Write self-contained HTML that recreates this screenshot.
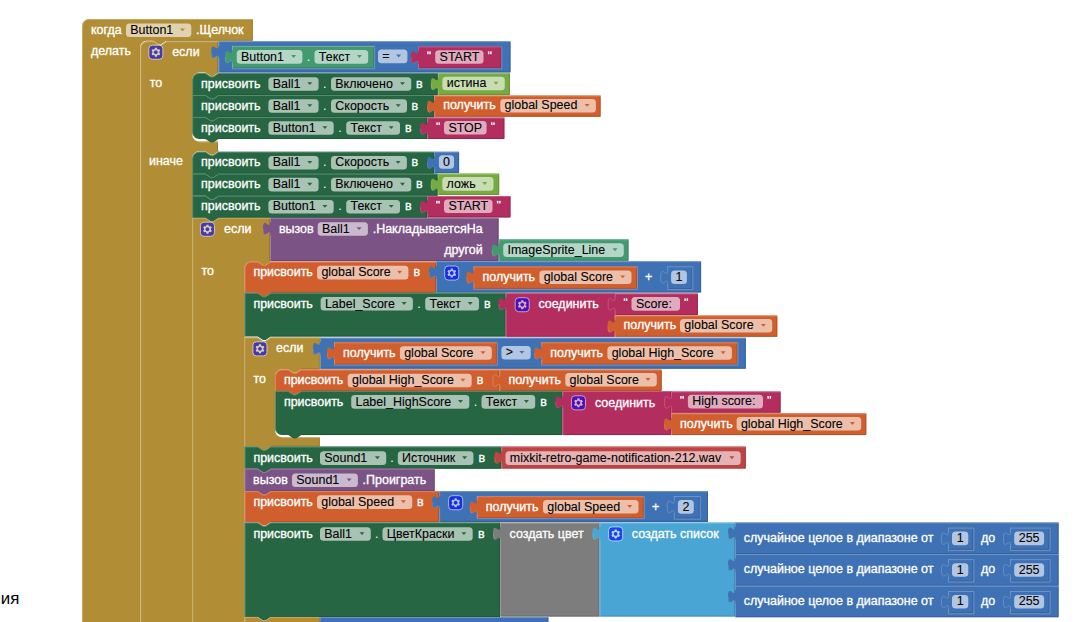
<!DOCTYPE html>
<html><head><meta charset="utf-8"><title>Blocks</title>
<style>
html,body{margin:0;padding:0;background:#fff;}
body{width:1075px;height:622px;overflow:hidden;font-family:"Liberation Sans",sans-serif;}
svg{display:block;position:absolute;left:0;top:0;}
path.h{stroke-opacity:0.8}
path.d{stroke-opacity:0.7}
text{font-family:"Liberation Sans",sans-serif;white-space:pre;}
</style></head><body>
<svg width="1075" height="622" viewBox="0 0 1075 622" font-family="'Liberation Sans', sans-serif">
<path d="M 82.1,26 a 7,7 0 0 1 7,-7 H 252.8 V 40.8 H 166.4 l -5.28,3.52 -2.64,0 -5.28,-3.52 H 147 a 7,7 0 0 0 -7,7 V 693 a 7,7 0 0 0 7,7 H 252.8 V 710 H 82.1 z" fill="#B18E35"/>
<path d="M 252.3,20 V 40.3 H 166.4" stroke="#8E722A" stroke-width="1" fill="none" class="d"/>
<path d="M 252.3,701 V 709.5 H 108.5" stroke="#8E722A" stroke-width="1" fill="none" class="d"/>
<path d="M 82.6,26 a 6.5,6.5 0 0 1 6.5,-6.5 H 252.8" stroke="#C8B072" stroke-width="1" fill="none" class="h"/>
<path d="M 82.6,26 V 710" stroke="#C8B072" stroke-width="1" fill="none" class="h"/>
<path d="M 147,700.5 H 252.8" stroke="#C8B072" stroke-width="1" fill="none" class="h"/>
<text x="91" y="33.9" fill="#fff" stroke="#fff" stroke-width="0.32" font-size="12.48" text-anchor="start">когда</text>
<rect x="126" y="23.4" width="65.3" height="13.6" rx="3.5" ry="3.5" fill="#fff" fill-opacity="0.6"/>
<text x="130.3" y="33.9" fill="#000" stroke="#000" stroke-width="0.08" font-size="12.48" text-anchor="start">Button1</text>
<path d="M 180,28.4 h 5 l -2.5,2.9 z" fill="#B18E35"/>
<text x="196" y="33.9" fill="#fff" stroke="#fff" stroke-width="0.32" font-size="12.48" text-anchor="start">.Щелчок</text>
<text x="91" y="55" fill="#fff" stroke="#fff" stroke-width="0.32" font-size="12.48" text-anchor="start">делать</text>
<path d="M 140.4,48.3 a 7,7 0 0 1 7,-7 H 153.6 l 5.28,3.52 2.64,0 5.28,-3.52 H 218 V 72.6 H 218.6 l -5.28,3.52 -2.64,0 -5.28,-3.52 H 199.2 a 7,7 0 0 0 -7,7 V 134.6 a 7,7 0 0 0 7,7 H 218 V 151.3 H 218.6 l -5.28,3.52 -2.64,0 -5.28,-3.52 H 199.2 a 7,7 0 0 0 -7,7 V 693 a 7,7 0 0 0 7,7 H 218 V 710 H 140.4 z" fill="#B18E35"/>
<path d="M 217.5,42.3 V 72.1 H 218.6" stroke="#8E722A" stroke-width="1" fill="none" class="d"/>
<path d="M 217.5,142.6 V 150.8 H 218.6" stroke="#8E722A" stroke-width="1" fill="none" class="d"/>
<path d="M 217.5,701 V 709.5 H 166.8" stroke="#8E722A" stroke-width="1" fill="none" class="d"/>
<path d="M 140.9,48.3 a 6.5,6.5 0 0 1 6.5,-6.5 H 153.6 l 5.28,3.52 2.64,0 5.28,-3.52 H 218" stroke="#C8B072" stroke-width="1" fill="none" class="h"/>
<path d="M 140.9,48.3 V 710" stroke="#C8B072" stroke-width="1" fill="none" class="h"/>
<path d="M 199.2,142.1 H 218" stroke="#C8B072" stroke-width="1" fill="none" class="h"/>
<path d="M 199.2,700.5 H 218" stroke="#C8B072" stroke-width="1" fill="none" class="h"/>
<g transform="translate(148.8,45.2) scale(0.88)" opacity="0.6"><rect x="0" y="0" width="16" height="16" rx="4" ry="4" fill="#00f" stroke="#fff" stroke-width="1"/><path d="m4.203,7.296 0,1.368 -0.92,0.677 -0.11,0.41 0.9,1.559 0.41,0.11 1.043,-0.457 1.187,0.683 0.127,1.134 0.3,0.3 1.8,0 0.3,-0.299 0.127,-1.138 1.185,-0.682 1.046,0.458 0.409,-0.11 0.9,-1.559 -0.11,-0.41 -0.92,-0.677 0,-1.366 0.92,-0.677 0.11,-0.41 -0.9,-1.559 -0.409,-0.109 -1.046,0.458 -1.185,-0.682 -0.127,-1.138 -0.3,-0.299 -1.8,0 -0.3,0.3 -0.126,1.135 -1.187,0.682 -1.043,-0.457 -0.41,0.11 -0.899,1.559 0.108,0.409z" fill="#fff"/><circle cx="8" cy="8" r="2.7" fill="#00f" stroke="#fff" stroke-width="1"/></g>
<text x="172.2" y="55.6" fill="#fff" stroke="#fff" stroke-width="0.32" font-size="12.48" text-anchor="start">если</text>
<text x="149.7" y="87" fill="#fff" stroke="#fff" stroke-width="0.32" font-size="12.48" text-anchor="start">то</text>
<text x="149" y="165" fill="#fff" stroke="#fff" stroke-width="0.32" font-size="12.48" text-anchor="start">иначе</text>
<path d="M 218.3,41.2 H 510.5 V 72.4 H 218.3 V 58.8 c 0,-8.8 -7.04,7.04 -7.04,-6.6 s 7.04,2.2 7.04,-6.6 z" fill="#3F71B5"/>
<path d="M 510,42.2 V 71.9 H 219.3" stroke="#325A91" stroke-width="1" fill="none" class="d"/>
<path d="M 218.3,41.7 H 510.5" stroke="#799CCB" stroke-width="1" fill="none" class="h"/>
<path d="M 218.8,58.8 V 72.4" stroke="#799CCB" stroke-width="1" fill="none" class="h"/>
<path d="M 218.8,41.2 V 45.6" stroke="#799CCB" stroke-width="1" fill="none" class="h"/>
<path d="M 218.8,58.8 c 0,-8.8 -7.04,7.04 -7.04,-6.6" stroke="#799CCB" stroke-width="1" fill="none" opacity="0.45"/>
<path d="M 232,45.9 H 374.2 V 68.2 H 232 V 63.5 c 0,-8.8 -7.04,7.04 -7.04,-6.6 s 7.04,2.2 7.04,-6.6 z" fill="#439970"/>
<path d="M 373.7,46.9 V 67.7 H 233" stroke="#367A5A" stroke-width="1" fill="none" class="d"/>
<path d="M 232,46.4 H 374.2" stroke="#7BB89B" stroke-width="1" fill="none" class="h"/>
<path d="M 232.5,63.5 V 68.2" stroke="#7BB89B" stroke-width="1" fill="none" class="h"/>
<path d="M 232.5,45.9 V 50.3" stroke="#7BB89B" stroke-width="1" fill="none" class="h"/>
<path d="M 232.5,63.5 c 0,-8.8 -7.04,7.04 -7.04,-6.6" stroke="#7BB89B" stroke-width="1" fill="none" opacity="0.45"/>
<path d="M 374.7,45.9 V 68.7 H 232" stroke="#799CCB" stroke-width="1" fill="none" opacity="0.8"/>
<rect x="236.7" y="50.1" width="65.7" height="13.6" rx="3.5" ry="3.5" fill="#fff" fill-opacity="0.6"/>
<text x="241" y="60.6" fill="#000" stroke="#000" stroke-width="0.08" font-size="12.48" text-anchor="start">Button1</text>
<path d="M 291.1,55.1 h 5 l -2.5,2.9 z" fill="#439970"/>
<text x="308.5" y="60.6" fill="#fff" stroke="#fff" stroke-width="0" font-size="12.48" text-anchor="middle">.</text>
<rect x="314.5" y="50.1" width="53.7" height="13.6" rx="3.5" ry="3.5" fill="#fff" fill-opacity="0.6"/>
<text x="318.8" y="60.6" fill="#000" stroke="#000" stroke-width="0.08" font-size="12.48" text-anchor="start">Текст</text>
<path d="M 356.9,55.1 h 5 l -2.5,2.9 z" fill="#439970"/>
<rect x="378" y="49.6" width="29.4" height="13.6" rx="3.5" ry="3.5" fill="#fff" fill-opacity="0.6"/>
<text x="382.3" y="60.1" fill="#000" stroke="#000" stroke-width="0.08" font-size="12.48" text-anchor="start">=</text>
<path d="M 396.1,54.6 h 5 l -2.5,2.9 z" fill="#3F71B5"/>
<path d="M 418,46.4 H 501.3 V 68.3 H 418 V 64 c 0,-8.8 -7.04,7.04 -7.04,-6.6 s 7.04,2.2 7.04,-6.6 z" fill="#B32D5E"/>
<path d="M 500.8,47.4 V 67.8 H 419" stroke="#8F244B" stroke-width="1" fill="none" class="d"/>
<path d="M 418,46.9 H 501.3" stroke="#CA6C8E" stroke-width="1" fill="none" class="h"/>
<path d="M 418.5,64 V 68.3" stroke="#CA6C8E" stroke-width="1" fill="none" class="h"/>
<path d="M 418.5,46.4 V 50.8" stroke="#CA6C8E" stroke-width="1" fill="none" class="h"/>
<path d="M 418.5,64 c 0,-8.8 -7.04,7.04 -7.04,-6.6" stroke="#CA6C8E" stroke-width="1" fill="none" opacity="0.45"/>
<path d="M 501.8,46.4 V 68.8 H 418" stroke="#799CCB" stroke-width="1" fill="none" opacity="0.8"/>
<rect x="427.1" y="51.35" width="1.5" height="2.8" rx="0.5" fill="#fff"/>
<rect x="429.3" y="51.35" width="1.5" height="2.8" rx="0.5" fill="#fff"/>
<rect x="487.9" y="51.35" width="1.5" height="2.8" rx="0.5" fill="#fff"/>
<rect x="490.1" y="51.35" width="1.5" height="2.8" rx="0.5" fill="#fff"/>
<rect x="435.2" y="50.15" width="48.3" height="13.6" rx="3.5" ry="3.5" fill="#fff" fill-opacity="0.6"/>
<text x="439.6" y="60.65" fill="#000" stroke="#000" stroke-width="0.08" font-size="12.48" text-anchor="start">START</text>
<path d="M 192.2,80 a 7,7 0 0 1 7,-7 H 205.4 l 5.28,3.52 2.64,0 5.28,-3.52 H 437.9 V 95.2 H 218.6 l -5.28,3.52 -2.64,0 -5.28,-3.52 H 192.2 z" fill="#266643"/>
<path d="M 437.4,74 V 94.7 H 218.6" stroke="#1E5236" stroke-width="1" fill="none" class="d"/>
<path d="M 192.7,80 a 6.5,6.5 0 0 1 6.5,-6.5 H 205.4 l 5.28,3.52 2.64,0 5.28,-3.52 H 437.9" stroke="#67947B" stroke-width="1" fill="none" class="h"/>
<path d="M 192.7,80 V 95.2" stroke="#67947B" stroke-width="1" fill="none" class="h"/>
<text x="201.1" y="87.7" fill="#fff" stroke="#fff" stroke-width="0.32" font-size="12.48" text-anchor="start">присвоить</text>
<rect x="268.4" y="77.2" width="50.2" height="13.6" rx="3.5" ry="3.5" fill="#fff" fill-opacity="0.6"/>
<text x="272.7" y="87.7" fill="#000" stroke="#000" stroke-width="0.08" font-size="12.48" text-anchor="start">Ball1</text>
<path d="M 307.3,82.2 h 5 l -2.5,2.9 z" fill="#266643"/>
<text x="324.8" y="87.7" fill="#fff" stroke="#fff" stroke-width="0" font-size="12.48" text-anchor="middle">.</text>
<rect x="331" y="77.2" width="80.27" height="13.6" rx="3.5" ry="3.5" fill="#fff" fill-opacity="0.6"/>
<text x="335.3" y="87.7" fill="#000" stroke="#000" stroke-width="0.08" font-size="12.48" text-anchor="start">Включено</text>
<path d="M 399.97,82.2 h 5 l -2.5,2.9 z" fill="#266643"/>
<text x="416" y="87.7" fill="#fff" stroke="#fff" stroke-width="0.32" font-size="12.48" text-anchor="start">в</text>
<path d="M 437.9,73 H 509.9 V 94.9 H 437.9 V 90.6 c 0,-8.8 -7.04,7.04 -7.04,-6.6 s 7.04,2.2 7.04,-6.6 z" fill="#77AB41"/>
<path d="M 509.4,74 V 94.4 H 438.9" stroke="#5F8934" stroke-width="1" fill="none" class="d"/>
<path d="M 437.9,73.5 H 509.9" stroke="#A0C47A" stroke-width="1" fill="none" class="h"/>
<path d="M 438.4,90.6 V 94.9" stroke="#A0C47A" stroke-width="1" fill="none" class="h"/>
<path d="M 438.4,73 V 77.4" stroke="#A0C47A" stroke-width="1" fill="none" class="h"/>
<path d="M 438.4,90.6 c 0,-8.8 -7.04,7.04 -7.04,-6.6" stroke="#A0C47A" stroke-width="1" fill="none" opacity="0.45"/>
<rect x="442.4" y="76.75" width="62.4" height="13.6" rx="3.5" ry="3.5" fill="#fff" fill-opacity="0.6"/>
<text x="446.7" y="87.25" fill="#000" stroke="#000" stroke-width="0.08" font-size="12.48" text-anchor="start">истина</text>
<path d="M 493.5,81.75 h 5 l -2.5,2.9 z" fill="#77AB41"/>
<path d="M 192.2,95 H 205.4 l 5.28,3.52 2.64,0 5.28,-3.52 H 434.2 V 117.2 H 218.6 l -5.28,3.52 -2.64,0 -5.28,-3.52 H 192.2 z" fill="#266643"/>
<path d="M 433.7,96 V 116.7 H 218.6" stroke="#1E5236" stroke-width="1" fill="none" class="d"/>
<path d="M 192.7,95.5 H 205.4 l 5.28,3.52 2.64,0 5.28,-3.52 H 434.2" stroke="#67947B" stroke-width="1" fill="none" class="h"/>
<path d="M 192.7,95 V 117.2" stroke="#67947B" stroke-width="1" fill="none" class="h"/>
<text x="201.1" y="109.7" fill="#fff" stroke="#fff" stroke-width="0.32" font-size="12.48" text-anchor="start">присвоить</text>
<rect x="268.4" y="99.2" width="50.2" height="13.6" rx="3.5" ry="3.5" fill="#fff" fill-opacity="0.6"/>
<text x="272.7" y="109.7" fill="#000" stroke="#000" stroke-width="0.08" font-size="12.48" text-anchor="start">Ball1</text>
<path d="M 307.3,104.2 h 5 l -2.5,2.9 z" fill="#266643"/>
<text x="324.8" y="109.7" fill="#fff" stroke="#fff" stroke-width="0" font-size="12.48" text-anchor="middle">.</text>
<rect x="331" y="99.2" width="76" height="13.6" rx="3.5" ry="3.5" fill="#fff" fill-opacity="0.6"/>
<text x="335.3" y="109.7" fill="#000" stroke="#000" stroke-width="0.08" font-size="12.48" text-anchor="start">Скорость</text>
<path d="M 395.7,104.2 h 5 l -2.5,2.9 z" fill="#266643"/>
<text x="411.6" y="109.7" fill="#fff" stroke="#fff" stroke-width="0.32" font-size="12.48" text-anchor="start">в</text>
<path d="M 434.2,95.5 H 600.6 V 116.8 H 434.2 V 113.1 c 0,-8.8 -7.04,7.04 -7.04,-6.6 s 7.04,2.2 7.04,-6.6 z" fill="#D05F2D"/>
<path d="M 600.1,96.5 V 116.3 H 435.2" stroke="#A64C24" stroke-width="1" fill="none" class="d"/>
<path d="M 434.2,96 H 600.6" stroke="#DE8F6C" stroke-width="1" fill="none" class="h"/>
<path d="M 434.7,113.1 V 116.8" stroke="#DE8F6C" stroke-width="1" fill="none" class="h"/>
<path d="M 434.7,95.5 V 99.9" stroke="#DE8F6C" stroke-width="1" fill="none" class="h"/>
<path d="M 434.7,113.1 c 0,-8.8 -7.04,7.04 -7.04,-6.6" stroke="#DE8F6C" stroke-width="1" fill="none" opacity="0.45"/>
<text x="443.2" y="109.45" fill="#fff" stroke="#fff" stroke-width="0.32" font-size="12.48" text-anchor="start">получить</text>
<rect x="500.3" y="98.95" width="95.6" height="13.6" rx="3.5" ry="3.5" fill="#fff" fill-opacity="0.6"/>
<text x="504.6" y="109.45" fill="#000" stroke="#000" stroke-width="0.08" font-size="12.48" text-anchor="start">global Speed</text>
<path d="M 584.6,103.95 h 5 l -2.5,2.9 z" fill="#D05F2D"/>
<path d="M 192.2,117 H 205.4 l 5.28,3.52 2.64,0 5.28,-3.52 H 427.2 V 139 H 218.6 l -5.28,3.52 -2.64,0 -5.28,-3.52 H 199.2 a 7,7 0 0 1 -7,-7 z" fill="#266643"/>
<path d="M 426.7,118 V 138.5 H 218.6" stroke="#1E5236" stroke-width="1" fill="none" class="d"/>
<path d="M 192.7,117.5 H 205.4 l 5.28,3.52 2.64,0 5.28,-3.52 H 427.2" stroke="#67947B" stroke-width="1" fill="none" class="h"/>
<path d="M 192.7,117 V 132" stroke="#67947B" stroke-width="1" fill="none" class="h"/>
<path d="M 192.7,132 a 7,7 0 0 0 2.1,4.9" stroke="#67947B" stroke-width="1" fill="none" class="h"/>
<text x="201.1" y="131.7" fill="#fff" stroke="#fff" stroke-width="0.32" font-size="12.48" text-anchor="start">присвоить</text>
<rect x="268.4" y="121.2" width="65.3" height="13.6" rx="3.5" ry="3.5" fill="#fff" fill-opacity="0.6"/>
<text x="272.7" y="131.7" fill="#000" stroke="#000" stroke-width="0.08" font-size="12.48" text-anchor="start">Button1</text>
<path d="M 322.4,126.2 h 5 l -2.5,2.9 z" fill="#266643"/>
<text x="339.95" y="131.7" fill="#fff" stroke="#fff" stroke-width="0" font-size="12.48" text-anchor="middle">.</text>
<rect x="346.2" y="121.2" width="53.8" height="13.6" rx="3.5" ry="3.5" fill="#fff" fill-opacity="0.6"/>
<text x="350.5" y="131.7" fill="#000" stroke="#000" stroke-width="0.08" font-size="12.48" text-anchor="start">Текст</text>
<path d="M 388.7,126.2 h 5 l -2.5,2.9 z" fill="#266643"/>
<text x="405" y="131.7" fill="#fff" stroke="#fff" stroke-width="0.32" font-size="12.48" text-anchor="start">в</text>
<path d="M 427.2,117.5 H 504.4 V 138.9 H 427.2 V 135.1 c 0,-8.8 -7.04,7.04 -7.04,-6.6 s 7.04,2.2 7.04,-6.6 z" fill="#B32D5E"/>
<path d="M 503.9,118.5 V 138.4 H 428.2" stroke="#8F244B" stroke-width="1" fill="none" class="d"/>
<path d="M 427.2,118 H 504.4" stroke="#CA6C8E" stroke-width="1" fill="none" class="h"/>
<path d="M 427.7,135.1 V 138.9" stroke="#CA6C8E" stroke-width="1" fill="none" class="h"/>
<path d="M 427.7,117.5 V 121.9" stroke="#CA6C8E" stroke-width="1" fill="none" class="h"/>
<path d="M 427.7,135.1 c 0,-8.8 -7.04,7.04 -7.04,-6.6" stroke="#CA6C8E" stroke-width="1" fill="none" opacity="0.45"/>
<rect x="436.3" y="122.2" width="1.5" height="2.8" rx="0.5" fill="#fff"/>
<rect x="438.5" y="122.2" width="1.5" height="2.8" rx="0.5" fill="#fff"/>
<rect x="491" y="122.2" width="1.5" height="2.8" rx="0.5" fill="#fff"/>
<rect x="493.2" y="122.2" width="1.5" height="2.8" rx="0.5" fill="#fff"/>
<rect x="444" y="121" width="42.6" height="13.6" rx="3.5" ry="3.5" fill="#fff" fill-opacity="0.6"/>
<text x="448.4" y="131.5" fill="#000" stroke="#000" stroke-width="0.08" font-size="12.48" text-anchor="start">STOP</text>
<path d="M 192.2,158.7 a 7,7 0 0 1 7,-7 H 205.4 l 5.28,3.52 2.64,0 5.28,-3.52 H 434.1 V 173.7 H 218.6 l -5.28,3.52 -2.64,0 -5.28,-3.52 H 192.2 z" fill="#266643"/>
<path d="M 433.6,152.7 V 173.2 H 218.6" stroke="#1E5236" stroke-width="1" fill="none" class="d"/>
<path d="M 192.7,158.7 a 6.5,6.5 0 0 1 6.5,-6.5 H 205.4 l 5.28,3.52 2.64,0 5.28,-3.52 H 434.1" stroke="#67947B" stroke-width="1" fill="none" class="h"/>
<path d="M 192.7,158.7 V 173.7" stroke="#67947B" stroke-width="1" fill="none" class="h"/>
<text x="201.1" y="166.4" fill="#fff" stroke="#fff" stroke-width="0.32" font-size="12.48" text-anchor="start">присвоить</text>
<rect x="268.4" y="155.9" width="50.2" height="13.6" rx="3.5" ry="3.5" fill="#fff" fill-opacity="0.6"/>
<text x="272.7" y="166.4" fill="#000" stroke="#000" stroke-width="0.08" font-size="12.48" text-anchor="start">Ball1</text>
<path d="M 307.3,160.9 h 5 l -2.5,2.9 z" fill="#266643"/>
<text x="324.8" y="166.4" fill="#fff" stroke="#fff" stroke-width="0" font-size="12.48" text-anchor="middle">.</text>
<rect x="331" y="155.9" width="75.9" height="13.6" rx="3.5" ry="3.5" fill="#fff" fill-opacity="0.6"/>
<text x="335.3" y="166.4" fill="#000" stroke="#000" stroke-width="0.08" font-size="12.48" text-anchor="start">Скорость</text>
<path d="M 395.6,160.9 h 5 l -2.5,2.9 z" fill="#266643"/>
<text x="411.6" y="166.4" fill="#fff" stroke="#fff" stroke-width="0.32" font-size="12.48" text-anchor="start">в</text>
<path d="M 434.1,151.7 H 459.1 V 173.1 H 434.1 V 169.3 c 0,-8.8 -7.04,7.04 -7.04,-6.6 s 7.04,2.2 7.04,-6.6 z" fill="#3F71B5"/>
<path d="M 458.6,152.7 V 172.6 H 435.1" stroke="#325A91" stroke-width="1" fill="none" class="d"/>
<path d="M 434.1,152.2 H 459.1" stroke="#799CCB" stroke-width="1" fill="none" class="h"/>
<path d="M 434.6,169.3 V 173.1" stroke="#799CCB" stroke-width="1" fill="none" class="h"/>
<path d="M 434.6,151.7 V 156.1" stroke="#799CCB" stroke-width="1" fill="none" class="h"/>
<path d="M 434.6,169.3 c 0,-8.8 -7.04,7.04 -7.04,-6.6" stroke="#799CCB" stroke-width="1" fill="none" opacity="0.45"/>
<rect x="438.9" y="155.2" width="15.1" height="13.6" rx="3.5" ry="3.5" fill="#fff" fill-opacity="0.6"/>
<text x="442.98" y="165.7" fill="#000" stroke="#000" stroke-width="0.08" font-size="12.48" text-anchor="start">0</text>
<path d="M 192.2,173.6 H 205.4 l 5.28,3.52 2.64,0 5.28,-3.52 H 437.8 V 195.8 H 218.6 l -5.28,3.52 -2.64,0 -5.28,-3.52 H 192.2 z" fill="#266643"/>
<path d="M 437.3,174.6 V 195.3 H 218.6" stroke="#1E5236" stroke-width="1" fill="none" class="d"/>
<path d="M 192.7,174.1 H 205.4 l 5.28,3.52 2.64,0 5.28,-3.52 H 437.8" stroke="#67947B" stroke-width="1" fill="none" class="h"/>
<path d="M 192.7,173.6 V 195.8" stroke="#67947B" stroke-width="1" fill="none" class="h"/>
<text x="201.1" y="188.3" fill="#fff" stroke="#fff" stroke-width="0.32" font-size="12.48" text-anchor="start">присвоить</text>
<rect x="268.4" y="177.8" width="50.2" height="13.6" rx="3.5" ry="3.5" fill="#fff" fill-opacity="0.6"/>
<text x="272.7" y="188.3" fill="#000" stroke="#000" stroke-width="0.08" font-size="12.48" text-anchor="start">Ball1</text>
<path d="M 307.3,182.8 h 5 l -2.5,2.9 z" fill="#266643"/>
<text x="324.8" y="188.3" fill="#fff" stroke="#fff" stroke-width="0" font-size="12.48" text-anchor="middle">.</text>
<rect x="331" y="177.8" width="80.27" height="13.6" rx="3.5" ry="3.5" fill="#fff" fill-opacity="0.6"/>
<text x="335.3" y="188.3" fill="#000" stroke="#000" stroke-width="0.08" font-size="12.48" text-anchor="start">Включено</text>
<path d="M 399.97,182.8 h 5 l -2.5,2.9 z" fill="#266643"/>
<text x="416" y="188.3" fill="#fff" stroke="#fff" stroke-width="0.32" font-size="12.48" text-anchor="start">в</text>
<path d="M 437.8,173.6 H 499.2 V 195 H 437.8 V 191.2 c 0,-8.8 -7.04,7.04 -7.04,-6.6 s 7.04,2.2 7.04,-6.6 z" fill="#77AB41"/>
<path d="M 498.7,174.6 V 194.5 H 438.8" stroke="#5F8934" stroke-width="1" fill="none" class="d"/>
<path d="M 437.8,174.1 H 499.2" stroke="#A0C47A" stroke-width="1" fill="none" class="h"/>
<path d="M 438.3,191.2 V 195" stroke="#A0C47A" stroke-width="1" fill="none" class="h"/>
<path d="M 438.3,173.6 V 178" stroke="#A0C47A" stroke-width="1" fill="none" class="h"/>
<path d="M 438.3,191.2 c 0,-8.8 -7.04,7.04 -7.04,-6.6" stroke="#A0C47A" stroke-width="1" fill="none" opacity="0.45"/>
<rect x="442.3" y="177.1" width="51.2" height="13.6" rx="3.5" ry="3.5" fill="#fff" fill-opacity="0.6"/>
<text x="446.6" y="187.6" fill="#000" stroke="#000" stroke-width="0.08" font-size="12.48" text-anchor="start">ложь</text>
<path d="M 482.2,182.1 h 5 l -2.5,2.9 z" fill="#77AB41"/>
<path d="M 192.2,195.7 H 205.4 l 5.28,3.52 2.64,0 5.28,-3.52 H 427 V 217.9 H 218.6 l -5.28,3.52 -2.64,0 -5.28,-3.52 H 192.2 z" fill="#266643"/>
<path d="M 426.5,196.7 V 217.4 H 218.6" stroke="#1E5236" stroke-width="1" fill="none" class="d"/>
<path d="M 192.7,196.2 H 205.4 l 5.28,3.52 2.64,0 5.28,-3.52 H 427" stroke="#67947B" stroke-width="1" fill="none" class="h"/>
<path d="M 192.7,195.7 V 217.9" stroke="#67947B" stroke-width="1" fill="none" class="h"/>
<text x="201.1" y="210.4" fill="#fff" stroke="#fff" stroke-width="0.32" font-size="12.48" text-anchor="start">присвоить</text>
<rect x="268.4" y="199.9" width="65.3" height="13.6" rx="3.5" ry="3.5" fill="#fff" fill-opacity="0.6"/>
<text x="272.7" y="210.4" fill="#000" stroke="#000" stroke-width="0.08" font-size="12.48" text-anchor="start">Button1</text>
<path d="M 322.4,204.9 h 5 l -2.5,2.9 z" fill="#266643"/>
<text x="339.95" y="210.4" fill="#fff" stroke="#fff" stroke-width="0" font-size="12.48" text-anchor="middle">.</text>
<rect x="346.2" y="199.9" width="53.8" height="13.6" rx="3.5" ry="3.5" fill="#fff" fill-opacity="0.6"/>
<text x="350.5" y="210.4" fill="#000" stroke="#000" stroke-width="0.08" font-size="12.48" text-anchor="start">Текст</text>
<path d="M 388.7,204.9 h 5 l -2.5,2.9 z" fill="#266643"/>
<text x="405" y="210.4" fill="#fff" stroke="#fff" stroke-width="0.32" font-size="12.48" text-anchor="start">в</text>
<path d="M 427,195.9 H 510.5 V 217.4 H 427 V 213.5 c 0,-8.8 -7.04,7.04 -7.04,-6.6 s 7.04,2.2 7.04,-6.6 z" fill="#B32D5E"/>
<path d="M 510,196.9 V 216.9 H 428" stroke="#8F244B" stroke-width="1" fill="none" class="d"/>
<path d="M 427,196.4 H 510.5" stroke="#CA6C8E" stroke-width="1" fill="none" class="h"/>
<path d="M 427.5,213.5 V 217.4" stroke="#CA6C8E" stroke-width="1" fill="none" class="h"/>
<path d="M 427.5,195.9 V 200.3" stroke="#CA6C8E" stroke-width="1" fill="none" class="h"/>
<path d="M 427.5,213.5 c 0,-8.8 -7.04,7.04 -7.04,-6.6" stroke="#CA6C8E" stroke-width="1" fill="none" opacity="0.45"/>
<rect x="436.1" y="200.65" width="1.5" height="2.8" rx="0.5" fill="#fff"/>
<rect x="438.3" y="200.65" width="1.5" height="2.8" rx="0.5" fill="#fff"/>
<rect x="496.9" y="200.65" width="1.5" height="2.8" rx="0.5" fill="#fff"/>
<rect x="499.1" y="200.65" width="1.5" height="2.8" rx="0.5" fill="#fff"/>
<rect x="444" y="199.45" width="48.5" height="13.6" rx="3.5" ry="3.5" fill="#fff" fill-opacity="0.6"/>
<text x="448.4" y="209.95" fill="#000" stroke="#000" stroke-width="0.08" font-size="12.48" text-anchor="start">START</text>
<path d="M 192.3,217.8 H 205.5 l 5.28,3.52 2.64,0 5.28,-3.52 H 270 V 261.4 H 270.9 l -5.28,3.52 -2.64,0 -5.28,-3.52 H 251.5 a 7,7 0 0 0 -7,7 V 693 a 7,7 0 0 0 7,7 H 270 V 710 H 192.3 z" fill="#B18E35"/>
<path d="M 269.5,218.8 V 260.9 H 270.9" stroke="#8E722A" stroke-width="1" fill="none" class="d"/>
<path d="M 269.5,701 V 709.5 H 218.7" stroke="#8E722A" stroke-width="1" fill="none" class="d"/>
<path d="M 192.8,218.3 H 205.5 l 5.28,3.52 2.64,0 5.28,-3.52 H 270" stroke="#C8B072" stroke-width="1" fill="none" class="h"/>
<path d="M 192.8,217.8 V 710" stroke="#C8B072" stroke-width="1" fill="none" class="h"/>
<path d="M 251.5,700.5 H 270" stroke="#C8B072" stroke-width="1" fill="none" class="h"/>
<g transform="translate(200.4,222.2) scale(0.88)" opacity="0.6"><rect x="0" y="0" width="16" height="16" rx="4" ry="4" fill="#00f" stroke="#fff" stroke-width="1"/><path d="m4.203,7.296 0,1.368 -0.92,0.677 -0.11,0.41 0.9,1.559 0.41,0.11 1.043,-0.457 1.187,0.683 0.127,1.134 0.3,0.3 1.8,0 0.3,-0.299 0.127,-1.138 1.185,-0.682 1.046,0.458 0.409,-0.11 0.9,-1.559 -0.11,-0.41 -0.92,-0.677 0,-1.366 0.92,-0.677 0.11,-0.41 -0.9,-1.559 -0.409,-0.109 -1.046,0.458 -1.185,-0.682 -0.127,-1.138 -0.3,-0.299 -1.8,0 -0.3,0.3 -0.126,1.135 -1.187,0.682 -1.043,-0.457 -0.41,0.11 -0.899,1.559 0.108,0.409z" fill="#fff"/><circle cx="8" cy="8" r="2.7" fill="#00f" stroke="#fff" stroke-width="1"/></g>
<text x="224.1" y="232.6" fill="#fff" stroke="#fff" stroke-width="0.32" font-size="12.48" text-anchor="start">если</text>
<text x="201.5" y="275" fill="#fff" stroke="#fff" stroke-width="0.32" font-size="12.48" text-anchor="start">то</text>
<path d="M 270,217.8 H 498.6 V 261 H 270 V 235.4 c 0,-8.8 -7.04,7.04 -7.04,-6.6 s 7.04,2.2 7.04,-6.6 z" fill="#7C5385"/>
<path d="M 498.1,218.8 V 260.5 H 271" stroke="#63426A" stroke-width="1" fill="none" class="d"/>
<path d="M 270,218.3 H 498.6" stroke="#A387AA" stroke-width="1" fill="none" class="h"/>
<path d="M 270.5,235.4 V 261" stroke="#A387AA" stroke-width="1" fill="none" class="h"/>
<path d="M 270.5,217.8 V 222.2" stroke="#A387AA" stroke-width="1" fill="none" class="h"/>
<path d="M 270.5,235.4 c 0,-8.8 -7.04,7.04 -7.04,-6.6" stroke="#A387AA" stroke-width="1" fill="none" opacity="0.45"/>
<text x="278.9" y="232.7" fill="#fff" stroke="#fff" stroke-width="0.32" font-size="12.48" text-anchor="start">вызов</text>
<rect x="317.7" y="222.2" width="50.2" height="13.6" rx="3.5" ry="3.5" fill="#fff" fill-opacity="0.6"/>
<text x="322" y="232.7" fill="#000" stroke="#000" stroke-width="0.08" font-size="12.48" text-anchor="start">Ball1</text>
<path d="M 356.6,227.2 h 5 l -2.5,2.9 z" fill="#7C5385"/>
<text x="372.7" y="232.7" fill="#fff" stroke="#fff" stroke-width="0.32" font-size="12.48" text-anchor="start">.НакладываетсяНа</text>
<text x="482.7" y="254.3" fill="#fff" stroke="#fff" stroke-width="0.32" font-size="12.48" text-anchor="end">другой</text>
<path d="M 498.8,239.3 H 628.5 V 260.8 H 498.8 V 256.9 c 0,-8.8 -7.04,7.04 -7.04,-6.6 s 7.04,2.2 7.04,-6.6 z" fill="#439970"/>
<path d="M 628,240.3 V 260.3 H 499.8" stroke="#367A5A" stroke-width="1" fill="none" class="d"/>
<path d="M 498.8,239.8 H 628.5" stroke="#7BB89B" stroke-width="1" fill="none" class="h"/>
<path d="M 499.3,256.9 V 260.8" stroke="#7BB89B" stroke-width="1" fill="none" class="h"/>
<path d="M 499.3,239.3 V 243.7" stroke="#7BB89B" stroke-width="1" fill="none" class="h"/>
<path d="M 499.3,256.9 c 0,-8.8 -7.04,7.04 -7.04,-6.6" stroke="#7BB89B" stroke-width="1" fill="none" opacity="0.45"/>
<rect x="503.2" y="243.3" width="120.6" height="13.6" rx="3.5" ry="3.5" fill="#fff" fill-opacity="0.6"/>
<text x="507.5" y="253.8" fill="#000" stroke="#000" stroke-width="0.08" font-size="12.48" text-anchor="start">ImageSprite_Line</text>
<path d="M 612.5,248.3 h 5 l -2.5,2.9 z" fill="#439970"/>
<path d="M 244.5,268.6 a 7,7 0 0 1 7,-7 H 257.7 l 5.28,3.52 2.64,0 5.28,-3.52 H 436 V 292.8 H 270.9 l -5.28,3.52 -2.64,0 -5.28,-3.52 H 244.5 z" fill="#D05F2D"/>
<path d="M 435.5,262.6 V 292.3 H 270.9" stroke="#A64C24" stroke-width="1" fill="none" class="d"/>
<path d="M 245,268.6 a 6.5,6.5 0 0 1 6.5,-6.5 H 257.7 l 5.28,3.52 2.64,0 5.28,-3.52 H 436" stroke="#DE8F6C" stroke-width="1" fill="none" class="h"/>
<path d="M 245,268.6 V 292.8" stroke="#DE8F6C" stroke-width="1" fill="none" class="h"/>
<text x="253.4" y="276.3" fill="#fff" stroke="#fff" stroke-width="0.32" font-size="12.48" text-anchor="start">присвоить</text>
<rect x="317.1" y="265.8" width="91.3" height="13.6" rx="3.5" ry="3.5" fill="#fff" fill-opacity="0.6"/>
<text x="321.4" y="276.3" fill="#000" stroke="#000" stroke-width="0.08" font-size="12.48" text-anchor="start">global Score</text>
<path d="M 397.1,270.8 h 5 l -2.5,2.9 z" fill="#D05F2D"/>
<text x="413.5" y="276.3" fill="#fff" stroke="#fff" stroke-width="0.32" font-size="12.48" text-anchor="start">в</text>
<path d="M 436,261.2 H 701.1 V 292.5 H 436 V 278.8 c 0,-8.8 -7.04,7.04 -7.04,-6.6 s 7.04,2.2 7.04,-6.6 z" fill="#3F71B5"/>
<path d="M 700.6,262.2 V 292 H 437" stroke="#325A91" stroke-width="1" fill="none" class="d"/>
<path d="M 436,261.7 H 701.1" stroke="#799CCB" stroke-width="1" fill="none" class="h"/>
<path d="M 436.5,278.8 V 292.5" stroke="#799CCB" stroke-width="1" fill="none" class="h"/>
<path d="M 436.5,261.2 V 265.6" stroke="#799CCB" stroke-width="1" fill="none" class="h"/>
<path d="M 436.5,278.8 c 0,-8.8 -7.04,7.04 -7.04,-6.6" stroke="#799CCB" stroke-width="1" fill="none" opacity="0.45"/>
<g transform="translate(444.7,266) scale(0.88)" opacity="0.6"><rect x="0" y="0" width="16" height="16" rx="4" ry="4" fill="#00f" stroke="#fff" stroke-width="1"/><path d="m4.203,7.296 0,1.368 -0.92,0.677 -0.11,0.41 0.9,1.559 0.41,0.11 1.043,-0.457 1.187,0.683 0.127,1.134 0.3,0.3 1.8,0 0.3,-0.299 0.127,-1.138 1.185,-0.682 1.046,0.458 0.409,-0.11 0.9,-1.559 -0.11,-0.41 -0.92,-0.677 0,-1.366 0.92,-0.677 0.11,-0.41 -0.9,-1.559 -0.409,-0.109 -1.046,0.458 -1.185,-0.682 -0.127,-1.138 -0.3,-0.299 -1.8,0 -0.3,0.3 -0.126,1.135 -1.187,0.682 -1.043,-0.457 -0.41,0.11 -0.899,1.559 0.108,0.409z" fill="#fff"/><circle cx="8" cy="8" r="2.7" fill="#00f" stroke="#fff" stroke-width="1"/></g>
<path d="M 473.5,266.4 H 637.1 V 288.9 H 473.5 V 284 c 0,-8.8 -7.04,7.04 -7.04,-6.6 s 7.04,2.2 7.04,-6.6 z" fill="#D05F2D"/>
<path d="M 636.6,267.4 V 288.4 H 474.5" stroke="#A64C24" stroke-width="1" fill="none" class="d"/>
<path d="M 473.5,266.9 H 637.1" stroke="#DE8F6C" stroke-width="1" fill="none" class="h"/>
<path d="M 474,284 V 288.9" stroke="#DE8F6C" stroke-width="1" fill="none" class="h"/>
<path d="M 474,266.4 V 270.8" stroke="#DE8F6C" stroke-width="1" fill="none" class="h"/>
<path d="M 474,284 c 0,-8.8 -7.04,7.04 -7.04,-6.6" stroke="#DE8F6C" stroke-width="1" fill="none" opacity="0.45"/>
<path d="M 637.6,266.4 V 289.4 H 473.5" stroke="#799CCB" stroke-width="1" fill="none" opacity="0.8"/>
<text x="482.5" y="280.95" fill="#fff" stroke="#fff" stroke-width="0.32" font-size="12.48" text-anchor="start">получить</text>
<rect x="539.4" y="270.45" width="92.1" height="13.6" rx="3.5" ry="3.5" fill="#fff" fill-opacity="0.6"/>
<text x="543.7" y="280.95" fill="#000" stroke="#000" stroke-width="0.08" font-size="12.48" text-anchor="start">global Score</text>
<path d="M 620.2,275.45 h 5 l -2.5,2.9 z" fill="#D05F2D"/>
<text x="645" y="280.9" fill="#fff" stroke="#fff" stroke-width="0.32" font-size="12.48" text-anchor="start">+</text>
<path d="M 667.2,266.3 H 692.3 V 289.1 H 667.2 V 283.9 c 0,-8.8 -7.04,7.04 -7.04,-6.6 s 7.04,2.2 7.04,-6.6 z" fill="#3F71B5"/>
<path d="M 691.8,267.3 V 288.6 H 668.2" stroke="#325A91" stroke-width="1" fill="none" class="d"/>
<path d="M 667.2,266.8 H 692.3" stroke="#799CCB" stroke-width="1" fill="none" class="h"/>
<path d="M 667.7,283.9 V 289.1" stroke="#799CCB" stroke-width="1" fill="none" class="h"/>
<path d="M 667.7,266.3 V 270.7" stroke="#799CCB" stroke-width="1" fill="none" class="h"/>
<path d="M 667.7,283.9 c 0,-8.8 -7.04,7.04 -7.04,-6.6 s 7.04,2.2 7.04,-6.6" stroke="#799CCB" stroke-width="0.9" fill="none" opacity="0.75"/>
<path d="M 692.8,266.3 V 289.6 H 667.2" stroke="#799CCB" stroke-width="1" fill="none" opacity="0.8"/>
<rect x="671.1" y="270.5" width="15.8" height="13.6" rx="3.5" ry="3.5" fill="#fff" fill-opacity="0.6"/>
<text x="675.53" y="281" fill="#000" stroke="#000" stroke-width="0.08" font-size="12.48" text-anchor="start">1</text>
<path d="M 244.5,292.8 H 257.7 l 5.28,3.52 2.64,0 5.28,-3.52 H 505.6 V 336.6 H 270.9 l -5.28,3.52 -2.64,0 -5.28,-3.52 H 244.5 z" fill="#266643"/>
<path d="M 505.1,293.8 V 336.1 H 270.9" stroke="#1E5236" stroke-width="1" fill="none" class="d"/>
<path d="M 245,293.3 H 257.7 l 5.28,3.52 2.64,0 5.28,-3.52 H 505.6" stroke="#67947B" stroke-width="1" fill="none" class="h"/>
<path d="M 245,292.8 V 336.6" stroke="#67947B" stroke-width="1" fill="none" class="h"/>
<text x="253.4" y="307.5" fill="#fff" stroke="#fff" stroke-width="0.32" font-size="12.48" text-anchor="start">присвоить</text>
<rect x="320.6" y="297" width="92.3" height="13.6" rx="3.5" ry="3.5" fill="#fff" fill-opacity="0.6"/>
<text x="324.9" y="307.5" fill="#000" stroke="#000" stroke-width="0.08" font-size="12.48" text-anchor="start">Label_Score</text>
<path d="M 401.6,302 h 5 l -2.5,2.9 z" fill="#266643"/>
<text x="419.05" y="307.5" fill="#fff" stroke="#fff" stroke-width="0" font-size="12.48" text-anchor="middle">.</text>
<rect x="425.2" y="297" width="53.8" height="13.6" rx="3.5" ry="3.5" fill="#fff" fill-opacity="0.6"/>
<text x="429.5" y="307.5" fill="#000" stroke="#000" stroke-width="0.08" font-size="12.48" text-anchor="start">Текст</text>
<path d="M 467.7,302 h 5 l -2.5,2.9 z" fill="#266643"/>
<text x="484.1" y="307.5" fill="#fff" stroke="#fff" stroke-width="0.32" font-size="12.48" text-anchor="start">в</text>
<path d="M 505.6,293 H 614.8 V 336.7 H 505.6 V 310.6 c 0,-8.8 -7.04,7.04 -7.04,-6.6 s 7.04,2.2 7.04,-6.6 z" fill="#B32D5E"/>
<path d="M 614.3,294 V 336.2 H 506.6" stroke="#8F244B" stroke-width="1" fill="none" class="d"/>
<path d="M 505.6,293.5 H 614.8" stroke="#CA6C8E" stroke-width="1" fill="none" class="h"/>
<path d="M 506.1,310.6 V 336.7" stroke="#CA6C8E" stroke-width="1" fill="none" class="h"/>
<path d="M 506.1,293 V 297.4" stroke="#CA6C8E" stroke-width="1" fill="none" class="h"/>
<path d="M 506.1,310.6 c 0,-8.8 -7.04,7.04 -7.04,-6.6" stroke="#CA6C8E" stroke-width="1" fill="none" opacity="0.45"/>
<g transform="translate(515.2,297.7) scale(0.88)" opacity="0.6"><rect x="0" y="0" width="16" height="16" rx="4" ry="4" fill="#00f" stroke="#fff" stroke-width="1"/><path d="m4.203,7.296 0,1.368 -0.92,0.677 -0.11,0.41 0.9,1.559 0.41,0.11 1.043,-0.457 1.187,0.683 0.127,1.134 0.3,0.3 1.8,0 0.3,-0.299 0.127,-1.138 1.185,-0.682 1.046,0.458 0.409,-0.11 0.9,-1.559 -0.11,-0.41 -0.92,-0.677 0,-1.366 0.92,-0.677 0.11,-0.41 -0.9,-1.559 -0.409,-0.109 -1.046,0.458 -1.185,-0.682 -0.127,-1.138 -0.3,-0.299 -1.8,0 -0.3,0.3 -0.126,1.135 -1.187,0.682 -1.043,-0.457 -0.41,0.11 -0.899,1.559 0.108,0.409z" fill="#fff"/><circle cx="8" cy="8" r="2.7" fill="#00f" stroke="#fff" stroke-width="1"/></g>
<text x="538.4" y="308.2" fill="#fff" stroke="#fff" stroke-width="0.32" font-size="12.48" text-anchor="start">соединить</text>
<path d="M 614.6,293.4 H 697.9 V 315.1 H 614.6 V 311 c 0,-8.8 -7.04,7.04 -7.04,-6.6 s 7.04,2.2 7.04,-6.6 z" fill="#B32D5E"/>
<path d="M 697.4,294.4 V 314.6 H 615.6" stroke="#8F244B" stroke-width="1" fill="none" class="d"/>
<path d="M 614.6,293.9 H 697.9" stroke="#CA6C8E" stroke-width="1" fill="none" class="h"/>
<path d="M 615.1,311 V 315.1" stroke="#CA6C8E" stroke-width="1" fill="none" class="h"/>
<path d="M 615.1,293.4 V 297.8" stroke="#CA6C8E" stroke-width="1" fill="none" class="h"/>
<path d="M 615.1,311 c 0,-8.8 -7.04,7.04 -7.04,-6.6 s 7.04,2.2 7.04,-6.6" stroke="#CA6C8E" stroke-width="0.9" fill="none" opacity="0.75"/>
<rect x="623.7" y="298.25" width="1.5" height="2.8" rx="0.5" fill="#fff"/>
<rect x="625.9" y="298.25" width="1.5" height="2.8" rx="0.5" fill="#fff"/>
<rect x="684.4" y="298.25" width="1.5" height="2.8" rx="0.5" fill="#fff"/>
<rect x="686.6" y="298.25" width="1.5" height="2.8" rx="0.5" fill="#fff"/>
<rect x="631.5" y="297.05" width="48.5" height="13.6" rx="3.5" ry="3.5" fill="#fff" fill-opacity="0.6"/>
<text x="635.9" y="307.55" fill="#000" stroke="#000" stroke-width="0.08" font-size="12.48" text-anchor="start">Score:</text>
<path d="M 614.6,315.4 H 777.3 V 336.8 H 614.6 V 333 c 0,-8.8 -7.04,7.04 -7.04,-6.6 s 7.04,2.2 7.04,-6.6 z" fill="#D05F2D"/>
<path d="M 776.8,316.4 V 336.3 H 615.6" stroke="#A64C24" stroke-width="1" fill="none" class="d"/>
<path d="M 614.6,315.9 H 777.3" stroke="#DE8F6C" stroke-width="1" fill="none" class="h"/>
<path d="M 615.1,333 V 336.8" stroke="#DE8F6C" stroke-width="1" fill="none" class="h"/>
<path d="M 615.1,315.4 V 319.8" stroke="#DE8F6C" stroke-width="1" fill="none" class="h"/>
<path d="M 615.1,333 c 0,-8.8 -7.04,7.04 -7.04,-6.6" stroke="#DE8F6C" stroke-width="1" fill="none" opacity="0.45"/>
<text x="623.6" y="329.4" fill="#fff" stroke="#fff" stroke-width="0.32" font-size="12.48" text-anchor="start">получить</text>
<rect x="680" y="318.9" width="92.2" height="13.6" rx="3.5" ry="3.5" fill="#fff" fill-opacity="0.6"/>
<text x="684.3" y="329.4" fill="#000" stroke="#000" stroke-width="0.08" font-size="12.48" text-anchor="start">global Score</text>
<path d="M 760.9,323.9 h 5 l -2.5,2.9 z" fill="#D05F2D"/>
<path d="M 244.4,337.4 H 257.6 l 5.28,3.52 2.64,0 5.28,-3.52 H 319.8 V 369.3 H 301.4 l -5.28,3.52 -2.64,0 -5.28,-3.52 H 282 a 7,7 0 0 0 -7,7 V 430.2 a 7,7 0 0 0 7,7 H 319.8 V 446.5 H 270.8 l -5.28,3.52 -2.64,0 -5.28,-3.52 H 244.4 z" fill="#B18E35"/>
<path d="M 319.3,338.4 V 368.8 H 301.4" stroke="#8E722A" stroke-width="1" fill="none" class="d"/>
<path d="M 319.3,438.2 V 446 H 270.8" stroke="#8E722A" stroke-width="1" fill="none" class="d"/>
<path d="M 244.9,337.9 H 257.6 l 5.28,3.52 2.64,0 5.28,-3.52 H 319.8" stroke="#C8B072" stroke-width="1" fill="none" class="h"/>
<path d="M 244.9,337.4 V 446.5" stroke="#C8B072" stroke-width="1" fill="none" class="h"/>
<path d="M 282,437.7 H 319.8" stroke="#C8B072" stroke-width="1" fill="none" class="h"/>
<g transform="translate(252.9,341.8) scale(0.88)" opacity="0.6"><rect x="0" y="0" width="16" height="16" rx="4" ry="4" fill="#00f" stroke="#fff" stroke-width="1"/><path d="m4.203,7.296 0,1.368 -0.92,0.677 -0.11,0.41 0.9,1.559 0.41,0.11 1.043,-0.457 1.187,0.683 0.127,1.134 0.3,0.3 1.8,0 0.3,-0.299 0.127,-1.138 1.185,-0.682 1.046,0.458 0.409,-0.11 0.9,-1.559 -0.11,-0.41 -0.92,-0.677 0,-1.366 0.92,-0.677 0.11,-0.41 -0.9,-1.559 -0.409,-0.109 -1.046,0.458 -1.185,-0.682 -0.127,-1.138 -0.3,-0.299 -1.8,0 -0.3,0.3 -0.126,1.135 -1.187,0.682 -1.043,-0.457 -0.41,0.11 -0.899,1.559 0.108,0.409z" fill="#fff"/><circle cx="8" cy="8" r="2.7" fill="#00f" stroke="#fff" stroke-width="1"/></g>
<text x="276" y="352.3" fill="#fff" stroke="#fff" stroke-width="0.32" font-size="12.48" text-anchor="start">если</text>
<text x="253.5" y="383.2" fill="#fff" stroke="#fff" stroke-width="0.32" font-size="12.48" text-anchor="start">то</text>
<path d="M 320,337.7 H 745.8 V 368.7 H 320 V 355.3 c 0,-8.8 -7.04,7.04 -7.04,-6.6 s 7.04,2.2 7.04,-6.6 z" fill="#3F71B5"/>
<path d="M 745.3,338.7 V 368.2 H 321" stroke="#325A91" stroke-width="1" fill="none" class="d"/>
<path d="M 320,338.2 H 745.8" stroke="#799CCB" stroke-width="1" fill="none" class="h"/>
<path d="M 320.5,355.3 V 368.7" stroke="#799CCB" stroke-width="1" fill="none" class="h"/>
<path d="M 320.5,337.7 V 342.1" stroke="#799CCB" stroke-width="1" fill="none" class="h"/>
<path d="M 320.5,355.3 c 0,-8.8 -7.04,7.04 -7.04,-6.6" stroke="#799CCB" stroke-width="1" fill="none" opacity="0.45"/>
<path d="M 334,342.3 H 496.9 V 364.6 H 334 V 359.9 c 0,-8.8 -7.04,7.04 -7.04,-6.6 s 7.04,2.2 7.04,-6.6 z" fill="#D05F2D"/>
<path d="M 496.4,343.3 V 364.1 H 335" stroke="#A64C24" stroke-width="1" fill="none" class="d"/>
<path d="M 334,342.8 H 496.9" stroke="#DE8F6C" stroke-width="1" fill="none" class="h"/>
<path d="M 334.5,359.9 V 364.6" stroke="#DE8F6C" stroke-width="1" fill="none" class="h"/>
<path d="M 334.5,342.3 V 346.7" stroke="#DE8F6C" stroke-width="1" fill="none" class="h"/>
<path d="M 334.5,359.9 c 0,-8.8 -7.04,7.04 -7.04,-6.6" stroke="#DE8F6C" stroke-width="1" fill="none" opacity="0.45"/>
<path d="M 497.4,342.3 V 365.1 H 334" stroke="#799CCB" stroke-width="1" fill="none" opacity="0.8"/>
<text x="343" y="356.75" fill="#fff" stroke="#fff" stroke-width="0.32" font-size="12.48" text-anchor="start">получить</text>
<rect x="399.9" y="346.25" width="91.9" height="13.6" rx="3.5" ry="3.5" fill="#fff" fill-opacity="0.6"/>
<text x="404.2" y="356.75" fill="#000" stroke="#000" stroke-width="0.08" font-size="12.48" text-anchor="start">global Score</text>
<path d="M 480.5,351.25 h 5 l -2.5,2.9 z" fill="#D05F2D"/>
<rect x="501.4" y="345.9" width="29.3" height="13.6" rx="3.5" ry="3.5" fill="#fff" fill-opacity="0.6"/>
<text x="505.7" y="356.4" fill="#000" stroke="#000" stroke-width="0.08" font-size="12.48" text-anchor="start">&gt;</text>
<path d="M 519.4,350.9 h 5 l -2.5,2.9 z" fill="#3F71B5"/>
<path d="M 541.3,342.3 H 737.4 V 364.6 H 541.3 V 359.9 c 0,-8.8 -7.04,7.04 -7.04,-6.6 s 7.04,2.2 7.04,-6.6 z" fill="#D05F2D"/>
<path d="M 736.9,343.3 V 364.1 H 542.3" stroke="#A64C24" stroke-width="1" fill="none" class="d"/>
<path d="M 541.3,342.8 H 737.4" stroke="#DE8F6C" stroke-width="1" fill="none" class="h"/>
<path d="M 541.8,359.9 V 364.6" stroke="#DE8F6C" stroke-width="1" fill="none" class="h"/>
<path d="M 541.8,342.3 V 346.7" stroke="#DE8F6C" stroke-width="1" fill="none" class="h"/>
<path d="M 541.8,359.9 c 0,-8.8 -7.04,7.04 -7.04,-6.6" stroke="#DE8F6C" stroke-width="1" fill="none" opacity="0.45"/>
<path d="M 737.9,342.3 V 365.1 H 541.3" stroke="#799CCB" stroke-width="1" fill="none" opacity="0.8"/>
<text x="550.3" y="356.75" fill="#fff" stroke="#fff" stroke-width="0.32" font-size="12.48" text-anchor="start">получить</text>
<rect x="607.4" y="346.25" width="124.5" height="13.6" rx="3.5" ry="3.5" fill="#fff" fill-opacity="0.6"/>
<text x="611.7" y="356.75" fill="#000" stroke="#000" stroke-width="0.08" font-size="12.48" text-anchor="start">global High_Score</text>
<path d="M 720.6,351.25 h 5 l -2.5,2.9 z" fill="#D05F2D"/>
<path d="M 275,376.5 a 7,7 0 0 1 7,-7 H 288.2 l 5.28,3.52 2.64,0 5.28,-3.52 H 499.4 V 391 H 301.4 l -5.28,3.52 -2.64,0 -5.28,-3.52 H 275 z" fill="#D05F2D"/>
<path d="M 498.9,370.5 V 390.5 H 301.4" stroke="#A64C24" stroke-width="1" fill="none" class="d"/>
<path d="M 275.5,376.5 a 6.5,6.5 0 0 1 6.5,-6.5 H 288.2 l 5.28,3.52 2.64,0 5.28,-3.52 H 499.4" stroke="#DE8F6C" stroke-width="1" fill="none" class="h"/>
<path d="M 275.5,376.5 V 391" stroke="#DE8F6C" stroke-width="1" fill="none" class="h"/>
<text x="283.9" y="384.2" fill="#fff" stroke="#fff" stroke-width="0.32" font-size="12.48" text-anchor="start">присвоить</text>
<rect x="347.7" y="373.7" width="124" height="13.6" rx="3.5" ry="3.5" fill="#fff" fill-opacity="0.6"/>
<text x="352" y="384.2" fill="#000" stroke="#000" stroke-width="0.08" font-size="12.48" text-anchor="start">global High_Score</text>
<path d="M 460.4,378.7 h 5 l -2.5,2.9 z" fill="#D05F2D"/>
<text x="476.8" y="384.2" fill="#fff" stroke="#fff" stroke-width="0.32" font-size="12.48" text-anchor="start">в</text>
<path d="M 499.4,369.5 H 661.7 V 390.9 H 499.4 V 387.1 c 0,-8.8 -7.04,7.04 -7.04,-6.6 s 7.04,2.2 7.04,-6.6 z" fill="#D05F2D"/>
<path d="M 661.2,370.5 V 390.4 H 500.4" stroke="#A64C24" stroke-width="1" fill="none" class="d"/>
<path d="M 499.4,370 H 661.7" stroke="#DE8F6C" stroke-width="1" fill="none" class="h"/>
<path d="M 499.9,387.1 V 390.9" stroke="#DE8F6C" stroke-width="1" fill="none" class="h"/>
<path d="M 499.9,369.5 V 373.9" stroke="#DE8F6C" stroke-width="1" fill="none" class="h"/>
<path d="M 499.9,387.1 c 0,-8.8 -7.04,7.04 -7.04,-6.6 s 7.04,2.2 7.04,-6.6" stroke="#DE8F6C" stroke-width="0.9" fill="none" opacity="0.75"/>
<text x="508.4" y="383.5" fill="#fff" stroke="#fff" stroke-width="0.32" font-size="12.48" text-anchor="start">получить</text>
<rect x="565.3" y="373" width="91.5" height="13.6" rx="3.5" ry="3.5" fill="#fff" fill-opacity="0.6"/>
<text x="569.6" y="383.5" fill="#000" stroke="#000" stroke-width="0.08" font-size="12.48" text-anchor="start">global Score</text>
<path d="M 645.5,378 h 5 l -2.5,2.9 z" fill="#D05F2D"/>
<path d="M 275,390.9 H 288.2 l 5.28,3.52 2.64,0 5.28,-3.52 H 562.4 V 435.1 H 301.4 l -5.28,3.52 -2.64,0 -5.28,-3.52 H 282 a 7,7 0 0 1 -7,-7 z" fill="#266643"/>
<path d="M 561.9,391.9 V 434.6 H 301.4" stroke="#1E5236" stroke-width="1" fill="none" class="d"/>
<path d="M 275.5,391.4 H 288.2 l 5.28,3.52 2.64,0 5.28,-3.52 H 562.4" stroke="#67947B" stroke-width="1" fill="none" class="h"/>
<path d="M 275.5,390.9 V 428.1" stroke="#67947B" stroke-width="1" fill="none" class="h"/>
<path d="M 275.5,428.1 a 7,7 0 0 0 2.1,4.9" stroke="#67947B" stroke-width="1" fill="none" class="h"/>
<text x="283.9" y="405.6" fill="#fff" stroke="#fff" stroke-width="0.32" font-size="12.48" text-anchor="start">присвоить</text>
<rect x="351.2" y="395.1" width="118.1" height="13.6" rx="3.5" ry="3.5" fill="#fff" fill-opacity="0.6"/>
<text x="355.5" y="405.6" fill="#000" stroke="#000" stroke-width="0.08" font-size="12.48" text-anchor="start">Label_HighScore</text>
<path d="M 458,400.1 h 5 l -2.5,2.9 z" fill="#266643"/>
<text x="475.4" y="405.6" fill="#fff" stroke="#fff" stroke-width="0" font-size="12.48" text-anchor="middle">.</text>
<rect x="481.5" y="395.1" width="53.7" height="13.6" rx="3.5" ry="3.5" fill="#fff" fill-opacity="0.6"/>
<text x="485.8" y="405.6" fill="#000" stroke="#000" stroke-width="0.08" font-size="12.48" text-anchor="start">Текст</text>
<path d="M 523.9,400.1 h 5 l -2.5,2.9 z" fill="#266643"/>
<text x="540.3" y="405.6" fill="#fff" stroke="#fff" stroke-width="0.32" font-size="12.48" text-anchor="start">в</text>
<path d="M 562.4,391 H 671.3 V 435.1 H 562.4 V 408.6 c 0,-8.8 -7.04,7.04 -7.04,-6.6 s 7.04,2.2 7.04,-6.6 z" fill="#B32D5E"/>
<path d="M 670.8,392 V 434.6 H 563.4" stroke="#8F244B" stroke-width="1" fill="none" class="d"/>
<path d="M 562.4,391.5 H 671.3" stroke="#CA6C8E" stroke-width="1" fill="none" class="h"/>
<path d="M 562.9,408.6 V 435.1" stroke="#CA6C8E" stroke-width="1" fill="none" class="h"/>
<path d="M 562.9,391 V 395.4" stroke="#CA6C8E" stroke-width="1" fill="none" class="h"/>
<path d="M 562.9,408.6 c 0,-8.8 -7.04,7.04 -7.04,-6.6" stroke="#CA6C8E" stroke-width="1" fill="none" opacity="0.45"/>
<g transform="translate(571.4,395.8) scale(0.88)" opacity="0.6"><rect x="0" y="0" width="16" height="16" rx="4" ry="4" fill="#00f" stroke="#fff" stroke-width="1"/><path d="m4.203,7.296 0,1.368 -0.92,0.677 -0.11,0.41 0.9,1.559 0.41,0.11 1.043,-0.457 1.187,0.683 0.127,1.134 0.3,0.3 1.8,0 0.3,-0.299 0.127,-1.138 1.185,-0.682 1.046,0.458 0.409,-0.11 0.9,-1.559 -0.11,-0.41 -0.92,-0.677 0,-1.366 0.92,-0.677 0.11,-0.41 -0.9,-1.559 -0.409,-0.109 -1.046,0.458 -1.185,-0.682 -0.127,-1.138 -0.3,-0.299 -1.8,0 -0.3,0.3 -0.126,1.135 -1.187,0.682 -1.043,-0.457 -0.41,0.11 -0.899,1.559 0.108,0.409z" fill="#fff"/><circle cx="8" cy="8" r="2.7" fill="#00f" stroke="#fff" stroke-width="1"/></g>
<text x="595" y="406.5" fill="#fff" stroke="#fff" stroke-width="0.32" font-size="12.48" text-anchor="start">соединить</text>
<path d="M 671.1,391.4 H 780.6 V 412.7 H 671.1 V 409 c 0,-8.8 -7.04,7.04 -7.04,-6.6 s 7.04,2.2 7.04,-6.6 z" fill="#B32D5E"/>
<path d="M 780.1,392.4 V 412.2 H 672.1" stroke="#8F244B" stroke-width="1" fill="none" class="d"/>
<path d="M 671.1,391.9 H 780.6" stroke="#CA6C8E" stroke-width="1" fill="none" class="h"/>
<path d="M 671.6,409 V 412.7" stroke="#CA6C8E" stroke-width="1" fill="none" class="h"/>
<path d="M 671.6,391.4 V 395.8" stroke="#CA6C8E" stroke-width="1" fill="none" class="h"/>
<path d="M 671.6,409 c 0,-8.8 -7.04,7.04 -7.04,-6.6 s 7.04,2.2 7.04,-6.6" stroke="#CA6C8E" stroke-width="0.9" fill="none" opacity="0.75"/>
<rect x="680.2" y="396.05" width="1.5" height="2.8" rx="0.5" fill="#fff"/>
<rect x="682.4" y="396.05" width="1.5" height="2.8" rx="0.5" fill="#fff"/>
<rect x="767.4" y="396.05" width="1.5" height="2.8" rx="0.5" fill="#fff"/>
<rect x="769.6" y="396.05" width="1.5" height="2.8" rx="0.5" fill="#fff"/>
<rect x="687.9" y="394.85" width="75.1" height="13.6" rx="3.5" ry="3.5" fill="#fff" fill-opacity="0.6"/>
<text x="692.3" y="405.35" fill="#000" stroke="#000" stroke-width="0.08" font-size="12.48" text-anchor="start">High score:</text>
<path d="M 671.1,413.3 H 866.3 V 435.1 H 671.1 V 430.9 c 0,-8.8 -7.04,7.04 -7.04,-6.6 s 7.04,2.2 7.04,-6.6 z" fill="#D05F2D"/>
<path d="M 865.8,414.3 V 434.6 H 672.1" stroke="#A64C24" stroke-width="1" fill="none" class="d"/>
<path d="M 671.1,413.8 H 866.3" stroke="#DE8F6C" stroke-width="1" fill="none" class="h"/>
<path d="M 671.6,430.9 V 435.1" stroke="#DE8F6C" stroke-width="1" fill="none" class="h"/>
<path d="M 671.6,413.3 V 417.7" stroke="#DE8F6C" stroke-width="1" fill="none" class="h"/>
<path d="M 671.6,430.9 c 0,-8.8 -7.04,7.04 -7.04,-6.6" stroke="#DE8F6C" stroke-width="1" fill="none" opacity="0.45"/>
<text x="680.1" y="427.5" fill="#fff" stroke="#fff" stroke-width="0.32" font-size="12.48" text-anchor="start">получить</text>
<rect x="736.6" y="417" width="124.6" height="13.6" rx="3.5" ry="3.5" fill="#fff" fill-opacity="0.6"/>
<text x="740.9" y="427.5" fill="#000" stroke="#000" stroke-width="0.08" font-size="12.48" text-anchor="start">global High_Score</text>
<path d="M 849.9,422 h 5 l -2.5,2.9 z" fill="#D05F2D"/>
<path d="M 244.5,446.5 H 257.7 l 5.28,3.52 2.64,0 5.28,-3.52 H 501.4 V 468.7 H 270.9 l -5.28,3.52 -2.64,0 -5.28,-3.52 H 244.5 z" fill="#266643"/>
<path d="M 500.9,447.5 V 468.2 H 270.9" stroke="#1E5236" stroke-width="1" fill="none" class="d"/>
<path d="M 245,447 H 257.7 l 5.28,3.52 2.64,0 5.28,-3.52 H 501.4" stroke="#67947B" stroke-width="1" fill="none" class="h"/>
<path d="M 245,446.5 V 468.7" stroke="#67947B" stroke-width="1" fill="none" class="h"/>
<text x="253.4" y="461.8" fill="#fff" stroke="#fff" stroke-width="0.32" font-size="12.48" text-anchor="start">присвоить</text>
<rect x="320" y="451.3" width="66.2" height="13.6" rx="3.5" ry="3.5" fill="#fff" fill-opacity="0.6"/>
<text x="324.3" y="461.8" fill="#000" stroke="#000" stroke-width="0.08" font-size="12.48" text-anchor="start">Sound1</text>
<path d="M 374.9,456.3 h 5 l -2.5,2.9 z" fill="#266643"/>
<text x="392" y="461.8" fill="#fff" stroke="#fff" stroke-width="0" font-size="12.48" text-anchor="middle">.</text>
<rect x="397.8" y="451.3" width="75.6" height="13.6" rx="3.5" ry="3.5" fill="#fff" fill-opacity="0.6"/>
<text x="402.1" y="461.8" fill="#000" stroke="#000" stroke-width="0.08" font-size="12.48" text-anchor="start">Источник</text>
<path d="M 462.1,456.3 h 5 l -2.5,2.9 z" fill="#266643"/>
<text x="478.5" y="461.8" fill="#fff" stroke="#fff" stroke-width="0.32" font-size="12.48" text-anchor="start">в</text>
<path d="M 501.4,446.5 H 745.8 V 468.6 H 501.4 V 464.1 c 0,-8.8 -7.04,7.04 -7.04,-6.6 s 7.04,2.2 7.04,-6.6 z" fill="#BF4343"/>
<path d="M 745.3,447.5 V 468.1 H 502.4" stroke="#993636" stroke-width="1" fill="none" class="d"/>
<path d="M 501.4,447 H 745.8" stroke="#D27B7B" stroke-width="1" fill="none" class="h"/>
<path d="M 501.9,464.1 V 468.6" stroke="#D27B7B" stroke-width="1" fill="none" class="h"/>
<path d="M 501.9,446.5 V 450.9" stroke="#D27B7B" stroke-width="1" fill="none" class="h"/>
<path d="M 501.9,464.1 c 0,-8.8 -7.04,7.04 -7.04,-6.6" stroke="#D27B7B" stroke-width="1" fill="none" opacity="0.45"/>
<rect x="505.5" y="451.3" width="235.2" height="13.6" rx="3.5" ry="3.5" fill="#fff" fill-opacity="0.6"/>
<text x="509.8" y="461.8" fill="#000" stroke="#000" stroke-width="0.08" font-size="12.48" text-anchor="start">mixkit-retro-game-notification-212.wav</text>
<path d="M 729.4,456.3 h 5 l -2.5,2.9 z" fill="#BF4343"/>
<path d="M 244.5,468.6 H 257.7 l 5.28,3.52 2.64,0 5.28,-3.52 H 434.7 V 491.2 H 270.9 l -5.28,3.52 -2.64,0 -5.28,-3.52 H 244.5 z" fill="#7C5385"/>
<path d="M 434.2,469.6 V 490.7 H 270.9" stroke="#63426A" stroke-width="1" fill="none" class="d"/>
<path d="M 245,469.1 H 257.7 l 5.28,3.52 2.64,0 5.28,-3.52 H 434.7" stroke="#A387AA" stroke-width="1" fill="none" class="h"/>
<path d="M 245,468.6 V 491.2" stroke="#A387AA" stroke-width="1" fill="none" class="h"/>
<text x="253.1" y="483.9" fill="#fff" stroke="#fff" stroke-width="0.32" font-size="12.48" text-anchor="start">вызов</text>
<rect x="292" y="473.4" width="65.9" height="13.6" rx="3.5" ry="3.5" fill="#fff" fill-opacity="0.6"/>
<text x="296.3" y="483.9" fill="#000" stroke="#000" stroke-width="0.08" font-size="12.48" text-anchor="start">Sound1</text>
<path d="M 346.6,478.4 h 5 l -2.5,2.9 z" fill="#7C5385"/>
<text x="362.6" y="483.9" fill="#fff" stroke="#fff" stroke-width="0.32" font-size="12.48" text-anchor="start">.Проиграть</text>
<path d="M 244.5,491.1 H 257.7 l 5.28,3.52 2.64,0 5.28,-3.52 H 439.2 V 522.1 H 270.9 l -5.28,3.52 -2.64,0 -5.28,-3.52 H 244.5 z" fill="#D05F2D"/>
<path d="M 438.7,492.1 V 521.6 H 270.9" stroke="#A64C24" stroke-width="1" fill="none" class="d"/>
<path d="M 245,491.6 H 257.7 l 5.28,3.52 2.64,0 5.28,-3.52 H 439.2" stroke="#DE8F6C" stroke-width="1" fill="none" class="h"/>
<path d="M 245,491.1 V 522.1" stroke="#DE8F6C" stroke-width="1" fill="none" class="h"/>
<text x="253.4" y="505.8" fill="#fff" stroke="#fff" stroke-width="0.32" font-size="12.48" text-anchor="start">присвоить</text>
<rect x="317" y="495.3" width="95.2" height="13.6" rx="3.5" ry="3.5" fill="#fff" fill-opacity="0.6"/>
<text x="321.3" y="505.8" fill="#000" stroke="#000" stroke-width="0.08" font-size="12.48" text-anchor="start">global Speed</text>
<path d="M 400.9,500.3 h 5 l -2.5,2.9 z" fill="#D05F2D"/>
<text x="416.9" y="505.8" fill="#fff" stroke="#fff" stroke-width="0.32" font-size="12.48" text-anchor="start">в</text>
<path d="M 439.2,491.1 H 708 V 521.9 H 439.2 V 508.7 c 0,-8.8 -7.04,7.04 -7.04,-6.6 s 7.04,2.2 7.04,-6.6 z" fill="#3F71B5"/>
<path d="M 707.5,492.1 V 521.4 H 440.2" stroke="#325A91" stroke-width="1" fill="none" class="d"/>
<path d="M 439.2,491.6 H 708" stroke="#799CCB" stroke-width="1" fill="none" class="h"/>
<path d="M 439.7,508.7 V 521.9" stroke="#799CCB" stroke-width="1" fill="none" class="h"/>
<path d="M 439.7,491.1 V 495.5" stroke="#799CCB" stroke-width="1" fill="none" class="h"/>
<path d="M 439.7,508.7 c 0,-8.8 -7.04,7.04 -7.04,-6.6" stroke="#799CCB" stroke-width="1" fill="none" opacity="0.45"/>
<g transform="translate(448.6,495.7) scale(0.88)" opacity="0.6"><rect x="0" y="0" width="16" height="16" rx="4" ry="4" fill="#00f" stroke="#fff" stroke-width="1"/><path d="m4.203,7.296 0,1.368 -0.92,0.677 -0.11,0.41 0.9,1.559 0.41,0.11 1.043,-0.457 1.187,0.683 0.127,1.134 0.3,0.3 1.8,0 0.3,-0.299 0.127,-1.138 1.185,-0.682 1.046,0.458 0.409,-0.11 0.9,-1.559 -0.11,-0.41 -0.92,-0.677 0,-1.366 0.92,-0.677 0.11,-0.41 -0.9,-1.559 -0.409,-0.109 -1.046,0.458 -1.185,-0.682 -0.127,-1.138 -0.3,-0.299 -1.8,0 -0.3,0.3 -0.126,1.135 -1.187,0.682 -1.043,-0.457 -0.41,0.11 -0.899,1.559 0.108,0.409z" fill="#fff"/><circle cx="8" cy="8" r="2.7" fill="#00f" stroke="#fff" stroke-width="1"/></g>
<path d="M 476.8,496.2 H 643.8 V 518.2 H 476.8 V 513.8 c 0,-8.8 -7.04,7.04 -7.04,-6.6 s 7.04,2.2 7.04,-6.6 z" fill="#D05F2D"/>
<path d="M 643.3,497.2 V 517.7 H 477.8" stroke="#A64C24" stroke-width="1" fill="none" class="d"/>
<path d="M 476.8,496.7 H 643.8" stroke="#DE8F6C" stroke-width="1" fill="none" class="h"/>
<path d="M 477.3,513.8 V 518.2" stroke="#DE8F6C" stroke-width="1" fill="none" class="h"/>
<path d="M 477.3,496.2 V 500.6" stroke="#DE8F6C" stroke-width="1" fill="none" class="h"/>
<path d="M 477.3,513.8 c 0,-8.8 -7.04,7.04 -7.04,-6.6" stroke="#DE8F6C" stroke-width="1" fill="none" opacity="0.45"/>
<path d="M 644.3,496.2 V 518.7 H 476.8" stroke="#799CCB" stroke-width="1" fill="none" opacity="0.8"/>
<text x="485.8" y="510.5" fill="#fff" stroke="#fff" stroke-width="0.32" font-size="12.48" text-anchor="start">получить</text>
<rect x="543" y="500" width="95.5" height="13.6" rx="3.5" ry="3.5" fill="#fff" fill-opacity="0.6"/>
<text x="547.3" y="510.5" fill="#000" stroke="#000" stroke-width="0.08" font-size="12.48" text-anchor="start">global Speed</text>
<path d="M 627.2,505 h 5 l -2.5,2.9 z" fill="#D05F2D"/>
<text x="652" y="510.6" fill="#fff" stroke="#fff" stroke-width="0.32" font-size="12.48" text-anchor="start">+</text>
<path d="M 673.8,496 H 699.8 V 518.6 H 673.8 V 513.6 c 0,-8.8 -7.04,7.04 -7.04,-6.6 s 7.04,2.2 7.04,-6.6 z" fill="#3F71B5"/>
<path d="M 699.3,497 V 518.1 H 674.8" stroke="#325A91" stroke-width="1" fill="none" class="d"/>
<path d="M 673.8,496.5 H 699.8" stroke="#799CCB" stroke-width="1" fill="none" class="h"/>
<path d="M 674.3,513.6 V 518.6" stroke="#799CCB" stroke-width="1" fill="none" class="h"/>
<path d="M 674.3,496 V 500.4" stroke="#799CCB" stroke-width="1" fill="none" class="h"/>
<path d="M 674.3,513.6 c 0,-8.8 -7.04,7.04 -7.04,-6.6 s 7.04,2.2 7.04,-6.6" stroke="#799CCB" stroke-width="0.9" fill="none" opacity="0.75"/>
<path d="M 700.3,496 V 519.1 H 673.8" stroke="#799CCB" stroke-width="1" fill="none" opacity="0.8"/>
<rect x="677.9" y="500.1" width="15.9" height="13.6" rx="3.5" ry="3.5" fill="#fff" fill-opacity="0.6"/>
<text x="682.38" y="510.6" fill="#000" stroke="#000" stroke-width="0.08" font-size="12.48" text-anchor="start">2</text>
<path d="M 244.5,522.4 H 257.7 l 5.28,3.52 2.64,0 5.28,-3.52 H 500 V 617 H 270.9 l -5.28,3.52 -2.64,0 -5.28,-3.52 H 244.5 z" fill="#266643"/>
<path d="M 499.5,523.4 V 616.5 H 270.9" stroke="#1E5236" stroke-width="1" fill="none" class="d"/>
<path d="M 245,522.9 H 257.7 l 5.28,3.52 2.64,0 5.28,-3.52 H 500" stroke="#67947B" stroke-width="1" fill="none" class="h"/>
<path d="M 245,522.4 V 617" stroke="#67947B" stroke-width="1" fill="none" class="h"/>
<text x="253.4" y="537.7" fill="#fff" stroke="#fff" stroke-width="0.32" font-size="12.48" text-anchor="start">присвоить</text>
<rect x="320" y="527.2" width="50.8" height="13.6" rx="3.5" ry="3.5" fill="#fff" fill-opacity="0.6"/>
<text x="324.3" y="537.7" fill="#000" stroke="#000" stroke-width="0.08" font-size="12.48" text-anchor="start">Ball1</text>
<path d="M 359.5,532.2 h 5 l -2.5,2.9 z" fill="#266643"/>
<text x="376.65" y="537.7" fill="#fff" stroke="#fff" stroke-width="0" font-size="12.48" text-anchor="middle">.</text>
<rect x="382.5" y="527.2" width="90.2" height="13.6" rx="3.5" ry="3.5" fill="#fff" fill-opacity="0.6"/>
<text x="386.8" y="537.7" fill="#000" stroke="#000" stroke-width="0.08" font-size="12.48" text-anchor="start">ЦветКраски</text>
<path d="M 461.4,532.2 h 5 l -2.5,2.9 z" fill="#266643"/>
<text x="477.9" y="537.7" fill="#fff" stroke="#fff" stroke-width="0.32" font-size="12.48" text-anchor="start">в</text>
<path d="M 500,522.6 H 599.6 V 616.6 H 500 V 540.2 c 0,-8.8 -7.04,7.04 -7.04,-6.6 s 7.04,2.2 7.04,-6.6 z" fill="#7D7D7D"/>
<path d="M 599.1,523.6 V 616.1 H 501" stroke="#646464" stroke-width="1" fill="none" class="d"/>
<path d="M 500,523.1 H 599.6" stroke="#A4A4A4" stroke-width="1" fill="none" class="h"/>
<path d="M 500.5,540.2 V 616.6" stroke="#A4A4A4" stroke-width="1" fill="none" class="h"/>
<path d="M 500.5,522.6 V 527" stroke="#A4A4A4" stroke-width="1" fill="none" class="h"/>
<path d="M 500.5,540.2 c 0,-8.8 -7.04,7.04 -7.04,-6.6" stroke="#A4A4A4" stroke-width="1" fill="none" opacity="0.45"/>
<text x="509.6" y="538.3" fill="#fff" stroke="#fff" stroke-width="0.32" font-size="12.48" text-anchor="start">создать цвет</text>
<path d="M 599.5,522.6 H 735 V 616.6 H 599.5 V 540.2 c 0,-8.8 -7.04,7.04 -7.04,-6.6 s 7.04,2.2 7.04,-6.6 z" fill="#49A6D4"/>
<path d="M 734.5,523.6 V 616.1 H 600.5" stroke="#3A85AA" stroke-width="1" fill="none" class="d"/>
<path d="M 599.5,523.1 H 735" stroke="#80C1E1" stroke-width="1" fill="none" class="h"/>
<path d="M 600,540.2 V 616.6" stroke="#80C1E1" stroke-width="1" fill="none" class="h"/>
<path d="M 600,522.6 V 527" stroke="#80C1E1" stroke-width="1" fill="none" class="h"/>
<path d="M 600,540.2 c 0,-8.8 -7.04,7.04 -7.04,-6.6" stroke="#80C1E1" stroke-width="1" fill="none" opacity="0.45"/>
<g transform="translate(608.6,526.9) scale(0.88)" opacity="0.6"><rect x="0" y="0" width="16" height="16" rx="4" ry="4" fill="#00f" stroke="#fff" stroke-width="1"/><path d="m4.203,7.296 0,1.368 -0.92,0.677 -0.11,0.41 0.9,1.559 0.41,0.11 1.043,-0.457 1.187,0.683 0.127,1.134 0.3,0.3 1.8,0 0.3,-0.299 0.127,-1.138 1.185,-0.682 1.046,0.458 0.409,-0.11 0.9,-1.559 -0.11,-0.41 -0.92,-0.677 0,-1.366 0.92,-0.677 0.11,-0.41 -0.9,-1.559 -0.409,-0.109 -1.046,0.458 -1.185,-0.682 -0.127,-1.138 -0.3,-0.299 -1.8,0 -0.3,0.3 -0.126,1.135 -1.187,0.682 -1.043,-0.457 -0.41,0.11 -0.899,1.559 0.108,0.409z" fill="#fff"/><circle cx="8" cy="8" r="2.7" fill="#00f" stroke="#fff" stroke-width="1"/></g>
<text x="631.8" y="538.3" fill="#fff" stroke="#fff" stroke-width="0.32" font-size="12.48" text-anchor="start">создать список</text>
<path d="M 735,522.4 H 1058.6 V 554 H 735 V 540 c 0,-8.8 -7.04,7.04 -7.04,-6.6 s 7.04,2.2 7.04,-6.6 z" fill="#3F71B5"/>
<path d="M 1058.1,523.4 V 553.5 H 736" stroke="#325A91" stroke-width="1" fill="none" class="d"/>
<path d="M 735,522.9 H 1058.6" stroke="#799CCB" stroke-width="1" fill="none" class="h"/>
<path d="M 735.5,540 V 554" stroke="#799CCB" stroke-width="1" fill="none" class="h"/>
<path d="M 735.5,522.4 V 526.8" stroke="#799CCB" stroke-width="1" fill="none" class="h"/>
<path d="M 735.5,540 c 0,-8.8 -7.04,7.04 -7.04,-6.6" stroke="#799CCB" stroke-width="1" fill="none" opacity="0.45"/>
<text x="743.8" y="541.8" fill="#fff" stroke="#fff" stroke-width="0.32" font-size="12.48" text-anchor="start">случайное целое в диапазоне от</text>
<path d="M 948,527.6 H 973.4 V 549.9 H 948 V 545.2 c 0,-8.8 -7.04,7.04 -7.04,-6.6 s 7.04,2.2 7.04,-6.6 z" fill="#3F71B5"/>
<path d="M 972.9,528.6 V 549.4 H 949" stroke="#325A91" stroke-width="1" fill="none" class="d"/>
<path d="M 948,528.1 H 973.4" stroke="#799CCB" stroke-width="1" fill="none" class="h"/>
<path d="M 948.5,545.2 V 549.9" stroke="#799CCB" stroke-width="1" fill="none" class="h"/>
<path d="M 948.5,527.6 V 532" stroke="#799CCB" stroke-width="1" fill="none" class="h"/>
<path d="M 948.5,545.2 c 0,-8.8 -7.04,7.04 -7.04,-6.6 s 7.04,2.2 7.04,-6.6" stroke="#799CCB" stroke-width="0.9" fill="none" opacity="0.75"/>
<path d="M 973.9,527.6 V 550.4 H 948" stroke="#799CCB" stroke-width="1" fill="none" opacity="0.8"/>
<rect x="952" y="531.55" width="16.3" height="13.6" rx="3.5" ry="3.5" fill="#fff" fill-opacity="0.6"/>
<text x="956.68" y="542.05" fill="#000" stroke="#000" stroke-width="0.08" font-size="12.48" text-anchor="start">1</text>
<text x="981" y="541.8" fill="#fff" stroke="#fff" stroke-width="0.32" font-size="12.48" text-anchor="start">до</text>
<path d="M 1010,527.6 H 1049.6 V 549.9 H 1010 V 545.2 c 0,-8.8 -7.04,7.04 -7.04,-6.6 s 7.04,2.2 7.04,-6.6 z" fill="#3F71B5"/>
<path d="M 1049.1,528.6 V 549.4 H 1011" stroke="#325A91" stroke-width="1" fill="none" class="d"/>
<path d="M 1010,528.1 H 1049.6" stroke="#799CCB" stroke-width="1" fill="none" class="h"/>
<path d="M 1010.5,545.2 V 549.9" stroke="#799CCB" stroke-width="1" fill="none" class="h"/>
<path d="M 1010.5,527.6 V 532" stroke="#799CCB" stroke-width="1" fill="none" class="h"/>
<path d="M 1010.5,545.2 c 0,-8.8 -7.04,7.04 -7.04,-6.6 s 7.04,2.2 7.04,-6.6" stroke="#799CCB" stroke-width="0.9" fill="none" opacity="0.75"/>
<path d="M 1050.1,527.6 V 550.4 H 1010" stroke="#799CCB" stroke-width="1" fill="none" opacity="0.8"/>
<rect x="1014.2" y="531.55" width="29.9" height="13.6" rx="3.5" ry="3.5" fill="#fff" fill-opacity="0.6"/>
<text x="1018.74" y="542.05" fill="#000" stroke="#000" stroke-width="0.08" font-size="12.48" text-anchor="start">255</text>
<path d="M 735,554 H 1058.6 V 585.8 H 735 V 571.6 c 0,-8.8 -7.04,7.04 -7.04,-6.6 s 7.04,2.2 7.04,-6.6 z" fill="#3F71B5"/>
<path d="M 1058.1,555 V 585.3 H 736" stroke="#325A91" stroke-width="1" fill="none" class="d"/>
<path d="M 735,554.5 H 1058.6" stroke="#799CCB" stroke-width="1" fill="none" class="h"/>
<path d="M 735.5,571.6 V 585.8" stroke="#799CCB" stroke-width="1" fill="none" class="h"/>
<path d="M 735.5,554 V 558.4" stroke="#799CCB" stroke-width="1" fill="none" class="h"/>
<path d="M 735.5,571.6 c 0,-8.8 -7.04,7.04 -7.04,-6.6" stroke="#799CCB" stroke-width="1" fill="none" opacity="0.45"/>
<text x="743.8" y="573.4" fill="#fff" stroke="#fff" stroke-width="0.32" font-size="12.48" text-anchor="start">случайное целое в диапазоне от</text>
<path d="M 948,559.2 H 973.4 V 581.5 H 948 V 576.8 c 0,-8.8 -7.04,7.04 -7.04,-6.6 s 7.04,2.2 7.04,-6.6 z" fill="#3F71B5"/>
<path d="M 972.9,560.2 V 581 H 949" stroke="#325A91" stroke-width="1" fill="none" class="d"/>
<path d="M 948,559.7 H 973.4" stroke="#799CCB" stroke-width="1" fill="none" class="h"/>
<path d="M 948.5,576.8 V 581.5" stroke="#799CCB" stroke-width="1" fill="none" class="h"/>
<path d="M 948.5,559.2 V 563.6" stroke="#799CCB" stroke-width="1" fill="none" class="h"/>
<path d="M 948.5,576.8 c 0,-8.8 -7.04,7.04 -7.04,-6.6 s 7.04,2.2 7.04,-6.6" stroke="#799CCB" stroke-width="0.9" fill="none" opacity="0.75"/>
<path d="M 973.9,559.2 V 582 H 948" stroke="#799CCB" stroke-width="1" fill="none" opacity="0.8"/>
<rect x="952" y="563.15" width="16.3" height="13.6" rx="3.5" ry="3.5" fill="#fff" fill-opacity="0.6"/>
<text x="956.68" y="573.65" fill="#000" stroke="#000" stroke-width="0.08" font-size="12.48" text-anchor="start">1</text>
<text x="981" y="573.4" fill="#fff" stroke="#fff" stroke-width="0.32" font-size="12.48" text-anchor="start">до</text>
<path d="M 1010,559.2 H 1049.6 V 581.5 H 1010 V 576.8 c 0,-8.8 -7.04,7.04 -7.04,-6.6 s 7.04,2.2 7.04,-6.6 z" fill="#3F71B5"/>
<path d="M 1049.1,560.2 V 581 H 1011" stroke="#325A91" stroke-width="1" fill="none" class="d"/>
<path d="M 1010,559.7 H 1049.6" stroke="#799CCB" stroke-width="1" fill="none" class="h"/>
<path d="M 1010.5,576.8 V 581.5" stroke="#799CCB" stroke-width="1" fill="none" class="h"/>
<path d="M 1010.5,559.2 V 563.6" stroke="#799CCB" stroke-width="1" fill="none" class="h"/>
<path d="M 1010.5,576.8 c 0,-8.8 -7.04,7.04 -7.04,-6.6 s 7.04,2.2 7.04,-6.6" stroke="#799CCB" stroke-width="0.9" fill="none" opacity="0.75"/>
<path d="M 1050.1,559.2 V 582 H 1010" stroke="#799CCB" stroke-width="1" fill="none" opacity="0.8"/>
<rect x="1014.2" y="563.15" width="29.9" height="13.6" rx="3.5" ry="3.5" fill="#fff" fill-opacity="0.6"/>
<text x="1018.74" y="573.65" fill="#000" stroke="#000" stroke-width="0.08" font-size="12.48" text-anchor="start">255</text>
<path d="M 735,585.8 H 1058.6 V 617.2 H 735 V 603.4 c 0,-8.8 -7.04,7.04 -7.04,-6.6 s 7.04,2.2 7.04,-6.6 z" fill="#3F71B5"/>
<path d="M 1058.1,586.8 V 616.7 H 736" stroke="#325A91" stroke-width="1" fill="none" class="d"/>
<path d="M 735,586.3 H 1058.6" stroke="#799CCB" stroke-width="1" fill="none" class="h"/>
<path d="M 735.5,603.4 V 617.2" stroke="#799CCB" stroke-width="1" fill="none" class="h"/>
<path d="M 735.5,585.8 V 590.2" stroke="#799CCB" stroke-width="1" fill="none" class="h"/>
<path d="M 735.5,603.4 c 0,-8.8 -7.04,7.04 -7.04,-6.6" stroke="#799CCB" stroke-width="1" fill="none" opacity="0.45"/>
<text x="743.8" y="605.2" fill="#fff" stroke="#fff" stroke-width="0.32" font-size="12.48" text-anchor="start">случайное целое в диапазоне от</text>
<path d="M 948,591 H 973.4 V 613.3 H 948 V 608.6 c 0,-8.8 -7.04,7.04 -7.04,-6.6 s 7.04,2.2 7.04,-6.6 z" fill="#3F71B5"/>
<path d="M 972.9,592 V 612.8 H 949" stroke="#325A91" stroke-width="1" fill="none" class="d"/>
<path d="M 948,591.5 H 973.4" stroke="#799CCB" stroke-width="1" fill="none" class="h"/>
<path d="M 948.5,608.6 V 613.3" stroke="#799CCB" stroke-width="1" fill="none" class="h"/>
<path d="M 948.5,591 V 595.4" stroke="#799CCB" stroke-width="1" fill="none" class="h"/>
<path d="M 948.5,608.6 c 0,-8.8 -7.04,7.04 -7.04,-6.6 s 7.04,2.2 7.04,-6.6" stroke="#799CCB" stroke-width="0.9" fill="none" opacity="0.75"/>
<path d="M 973.9,591 V 613.8 H 948" stroke="#799CCB" stroke-width="1" fill="none" opacity="0.8"/>
<rect x="952" y="594.95" width="16.3" height="13.6" rx="3.5" ry="3.5" fill="#fff" fill-opacity="0.6"/>
<text x="956.68" y="605.45" fill="#000" stroke="#000" stroke-width="0.08" font-size="12.48" text-anchor="start">1</text>
<text x="981" y="605.2" fill="#fff" stroke="#fff" stroke-width="0.32" font-size="12.48" text-anchor="start">до</text>
<path d="M 1010,591 H 1049.6 V 613.3 H 1010 V 608.6 c 0,-8.8 -7.04,7.04 -7.04,-6.6 s 7.04,2.2 7.04,-6.6 z" fill="#3F71B5"/>
<path d="M 1049.1,592 V 612.8 H 1011" stroke="#325A91" stroke-width="1" fill="none" class="d"/>
<path d="M 1010,591.5 H 1049.6" stroke="#799CCB" stroke-width="1" fill="none" class="h"/>
<path d="M 1010.5,608.6 V 613.3" stroke="#799CCB" stroke-width="1" fill="none" class="h"/>
<path d="M 1010.5,591 V 595.4" stroke="#799CCB" stroke-width="1" fill="none" class="h"/>
<path d="M 1010.5,608.6 c 0,-8.8 -7.04,7.04 -7.04,-6.6 s 7.04,2.2 7.04,-6.6" stroke="#799CCB" stroke-width="0.9" fill="none" opacity="0.75"/>
<path d="M 1050.1,591 V 613.8 H 1010" stroke="#799CCB" stroke-width="1" fill="none" opacity="0.8"/>
<rect x="1014.2" y="594.95" width="29.9" height="13.6" rx="3.5" ry="3.5" fill="#fff" fill-opacity="0.6"/>
<text x="1018.74" y="605.45" fill="#000" stroke="#000" stroke-width="0.08" font-size="12.48" text-anchor="start">255</text>
<path d="M 244.5,616.9 H 257.7 l 5.28,3.52 2.64,0 5.28,-3.52 H 319.8 V 660 H 322.9 l -5.28,3.52 -2.64,0 -5.28,-3.52 H 303.5 a 7,7 0 0 0 -7,7 V 693 a 7,7 0 0 0 7,7 H 319.8 V 710 H 244.5 z" fill="#B18E35"/>
<path d="M 319.3,617.9 V 659.5 H 322.9" stroke="#8E722A" stroke-width="1" fill="none" class="d"/>
<path d="M 319.3,701 V 709.5 H 270.9" stroke="#8E722A" stroke-width="1" fill="none" class="d"/>
<path d="M 245,617.4 H 257.7 l 5.28,3.52 2.64,0 5.28,-3.52 H 319.8" stroke="#C8B072" stroke-width="1" fill="none" class="h"/>
<path d="M 245,616.9 V 710" stroke="#C8B072" stroke-width="1" fill="none" class="h"/>
<path d="M 303.5,700.5 H 319.8" stroke="#C8B072" stroke-width="1" fill="none" class="h"/>
<path d="M 319.8,617 H 548.4 V 660 H 319.8 V 634.6 c 0,-8.8 -7.04,7.04 -7.04,-6.6 s 7.04,2.2 7.04,-6.6 z" fill="#3F71B5"/>
<path d="M 547.9,618 V 659.5 H 320.8" stroke="#325A91" stroke-width="1" fill="none" class="d"/>
<path d="M 319.8,617.5 H 548.4" stroke="#799CCB" stroke-width="1" fill="none" class="h"/>
<path d="M 320.3,634.6 V 660" stroke="#799CCB" stroke-width="1" fill="none" class="h"/>
<path d="M 320.3,617 V 621.4" stroke="#799CCB" stroke-width="1" fill="none" class="h"/>
<path d="M 320.3,634.6 c 0,-8.8 -7.04,7.04 -7.04,-6.6" stroke="#799CCB" stroke-width="1" fill="none" opacity="0.45"/>
<text x="19.4" y="603.9" fill="#000" font-size="16.9" text-anchor="end">ния</text>
</svg>
</body></html>
